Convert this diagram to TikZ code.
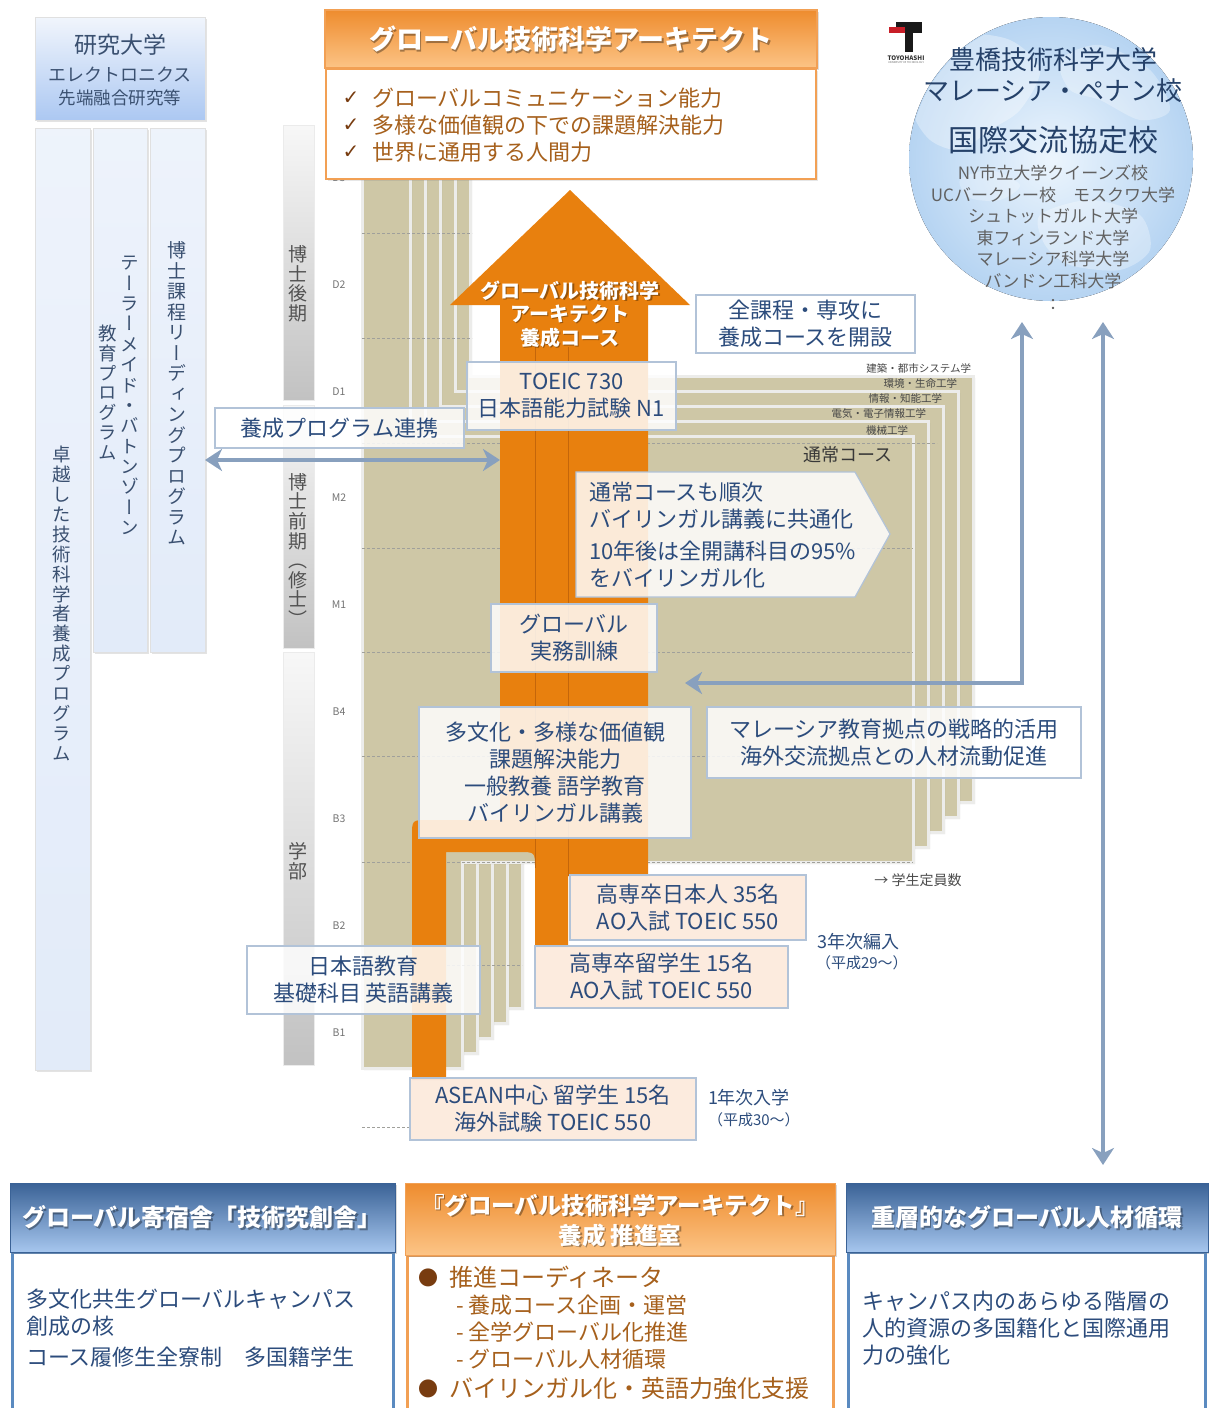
\documentclass[tikz,border=0pt]{standalone}
\usepackage{fontspec}
\setmainfont{Noto Sans CJK JP}
\newfontfamily\cjkv{Noto Sans CJK JP}[RawFeature=+vert]
\newfontfamily\symfont{DejaVu Sans}
\usetikzlibrary{arrows.meta,shadows}

\newcommand\fs[2]{\fontsize{#1}{#2}\selectfont}
\newcommand\vstrut[1]{\vrule height #1em depth 0pt width 0pt\relax}
% stack the characters of a string one below the other (vertical writing)
\ExplSyntaxOn
\NewDocumentCommand \vtext { O{1.08} m }
  {
    \vbox
      {
        \offinterlineskip
        \tl_map_inline:nn {#2}
          { \hbox_to_wd:nn { 1.1em } { \hss \vstrut{#1} \smash{##1} \hss } }
      }
  }
\ExplSyntaxOff

\definecolor{navy}{RGB}{44,76,124}
\definecolor{navygray}{RGB}{58,80,112}
\definecolor{brownt}{RGB}{166,96,28}
\definecolor{browndk}{RGB}{120,60,16}
\definecolor{orng}{RGB}{232,128,14}
\definecolor{orngdk}{RGB}{196,102,10}
\definecolor{tan}{RGB}{206,199,166}
\definecolor{cardedge}{RGB}{236,236,234}
\definecolor{boxline}{RGB}{178,195,216}
\definecolor{peach}{RGB}{252,233,220}
\definecolor{arrowblue}{RGB}{136,160,190}
\definecolor{gridgray}{RGB}{160,160,155}
\definecolor{ltblue}{RGB}{226,235,249}
\definecolor{midblue}{RGB}{172,200,242}
\definecolor{panelblue}{RGB}{90,138,192}
\definecolor{paneldark}{RGB}{58,98,150}
\definecolor{panellight}{RGB}{166,198,238}
\definecolor{orngtop}{RGB}{238,140,46}
\definecolor{orngbot}{RGB}{252,196,134}
\definecolor{orngline}{RGB}{242,160,84}
\definecolor{globeout}{RGB}{182,212,242}
\definecolor{globein}{RGB}{236,245,253}
\definecolor{logored}{RGB}{200,30,40}

\begin{document}
\begin{tikzpicture}[x=1pt,y=-1pt,
  every node/.style={inner sep=0pt, outer sep=0pt},
  lbox/.style={draw=black!12, line width=0.8pt, drop shadow={opacity=0.22,shadow xshift=2pt,shadow yshift=-2pt}},
  colbox/.style={lbox, top color=ltblue!60!white, bottom color=ltblue},
  vlab/.style={text=navygray, font=\cjkv\fs{18.5}{19}},
  yearbar/.style={draw=black!8, line width=0.6pt, top color=black!3, bottom color=black!24, minimum width=31pt},
  yearlab/.style={text=black!55, font=\fs{10.5}{12}},
  cardst/.style={fill=tan, draw=cardedge, line width=3pt, line join=miter, drop shadow={opacity=0.3,shadow xshift=2pt,shadow yshift=-2pt}},
  grid/.style={draw=gridgray, line width=0.7pt, dash pattern=on 3pt off 2pt},
  wbox/.style={draw=boxline, line width=1.2pt, fill=white, fill opacity=0.84, text opacity=1, text=navy, align=center, font=\fs{22}{27}},
  pbox/.style={wbox, fill=peach, fill opacity=0.93},
  note/.style={text=navy, align=left, anchor=west},
  dept/.style={text=black!72, font=\fs{10.5}{12}, anchor=east},
  barrow/.style={draw=arrowblue, line width=4.5pt, {Stealth[width=22pt,length=17pt,inset=5pt]}-{Stealth[width=22pt,length=17pt,inset=5pt]}},
  hdrtext/.style={text=white, font=\bfseries\fs{27}{30}, align=center},
  hdrshadow/.style={text=black, text opacity=0.35, font=\bfseries\fs{27}{30}, align=center},
]
\useasboundingbox (0,0) rectangle (1208,1408);

% ---------- left: research university and programme columns ----------
\node[lbox, top color=ltblue!50!white, bottom color=midblue, minimum width=170pt, minimum height=103pt] (kenkyu) at (120,68.5) {};
\node[text=navygray, font=\fs{23}{26}] (kenkyu-a) at (120,45) {研究大学};
\node[text=navygray, font=\fs{18}{20}] (kenkyu-b) at (120,75) {エレクトロニクス};
\node[text=navygray, font=\fs{17.5}{20}] (kenkyu-c) at (120,98) {先端融合研究等};

\node[colbox, minimum width=55pt, minimum height=942pt] (col-a) at (62.5,599) {};
\node[colbox, minimum width=54pt, minimum height=524pt] (col-b) at (120,390) {};
\node[colbox, minimum width=55pt, minimum height=524pt] (col-c) at (177.5,390) {};
\node[vlab] (col-a-t) at (62,601) {\vtext{卓越した技術科学者養成プログラム}};
\node[vlab] (col-b-r) at (130,392) {\vtext[1.1]{テーラーメイド・バトンゾーン}};
\node[vlab] (col-b-l) at (108,390) {\vtext[1.08]{教育プログラム}};
\node[vlab, font=\cjkv\fs{19}{19}] (col-c-t) at (177,391) {\vtext[1.08]{博士課程リーディングプログラム}};

% ---------- level bar and year marks ----------
\node[yearbar, minimum height=275pt] (bar-d) at (298.5,262.5) {};
\node[yearbar, minimum height=243pt] (bar-m) at (298.5,526.5) {};
\node[yearbar, minimum height=413pt] (bar-b) at (298.5,858.5) {};
\node[text=black!68, font=\cjkv\fs{19}{19}] (bar-d-t) at (298,281) {\vtext[1.05]{博士後期}};
\node[text=black!68, font=\cjkv\fs{19}{19}] (bar-m-t) at (298,548) {\vtext[1.03]{博士前期（修士）}};
\node[text=black!68, font=\cjkv\fs{19}{19}] (bar-b-t) at (298,858) {\vtext[1.1]{学部}};
\foreach \lab/\yy in {D3/178,D2/285,D1/392,M2/498,M1/605,B4/712,B3/819,B2/926,B1/1033}
  \node[yearlab] (yr-\lab) at (339,\yy) {\lab};

% ---------- stacked course cards (front card = machine engineering) ----------
\foreach \i in {4,3,2,1,0}
  \path[cardst, shift={(15*\i,-15*\i)}] (362,178) -- (410,178) -- (410,436) -- (913,436)
    -- (913,862) -- (462,862) -- (462,1068) -- (362,1068) -- cycle;

% year boundaries
\draw[grid] (362,233) -- (472,233);
\draw[grid] (362,338) -- (472,338);
\draw[grid] (362,443) -- (937,443);
\draw[grid] (362,548) -- (913,548);
\draw[grid] (362,652) -- (913,652);
\draw[grid] (362,756) -- (913,756);
\draw[grid] (362,862) -- (913,862);
\draw[grid] (362,965) -- (522,965);
\draw[grid] (362,1127) -- (410,1127);

% ---------- orange course arrow with its entry streams ----------
\fill[orng] (570,190) -- (690,305) -- (648,305) -- (648,876) -- (568,876) -- (568,947)
  -- (535,947) -- (535,868) .. controls (535,852) .. (519,852) -- (446,852) -- (446,1080)
  -- (412,1080) -- (412,836) .. controls (412,820) .. (428,820) -- (500,820) -- (500,305)
  -- (450,305) -- cycle;
\draw[orngdk, line width=0.9pt] (535,347) -- (535,868) (568,347) -- (568,876);
\node[hdrshadow, font=\bfseries\fs{20}{23.5}] (course-sh) at (571.2,315.2) {グローバル技術科学\\アーキテクト\\養成コース};
\node[hdrtext, font=\bfseries\fs{20}{23.5}] (course-title) at (570,314) {グローバル技術科学\\アーキテクト\\養成コース};

% department labels on the card tabs
\node[dept] (dep-5) at (971,368) {建築・都市システム学};
\node[dept] (dep-4) at (957,383) {環境・生命工学};
\node[dept] (dep-3) at (942,398) {情報・知能工学};
\node[dept] (dep-2) at (926,414) {電気・電子情報工学};
\node[dept] (dep-1) at (908,430) {機械工学};
\node[text=black!78, font=\fs{18}{20}] (normal) at (848,455) {通常コース};

% ---------- text boxes ----------
\node[wbox, minimum width=249pt, minimum height=40pt] (renkei) at (339.5,428) {養成プログラム連携};
\node[wbox, minimum width=209pt, minimum height=68pt] (toeic) at (571.5,396) {TOEIC 730\\日本語能力試験 N1};
\node[wbox, minimum width=219pt, minimum height=58pt] (kaisetsu) at (805.5,324) {全課程・専攻に\\養成コースを開設};
\path[draw=boxline, line width=1.2pt, fill=white, fill opacity=0.84] (576,472) -- (855,472) -- (890,534) -- (855,597) -- (576,597) -- cycle;
\node[note, font=\fs{22}{27}] (bilingual) at (589,535) {通常コースも順次\\バイリンガル講義に共通化\\[5pt]10年後は全開講科目の95\%\\をバイリンガル化};
\node[wbox, minimum width=166pt, minimum height=68pt] (jitsumu) at (574,638) {グローバル\\実務訓練};
\node[wbox, minimum width=272pt, minimum height=131pt] (tabunka) at (555,772.5) {多文化・多様な価値観\\課題解決能力\\一般教養 語学教育\\バイリンガル講義};
\node[wbox, minimum width=374pt, minimum height=71pt] (malaysia) at (894,742.5) {マレーシア教育拠点の戦略的活用\\海外交流拠点との人材流動促進};
\node[text=black!70, font=\fs{14}{16}] (teiin) at (918,880) {→ 学生定員数};
\node[pbox, minimum width=236pt, minimum height=65pt] (kosen-jp) at (688,907.5) {高専卒日本人 35名\\AO入試 TOEIC 550};
\node[pbox, minimum width=253pt, minimum height=62pt] (kosen-int) at (661.5,977) {高専卒留学生 15名\\AO入試 TOEIC 550};
\node[wbox, minimum width=233pt, minimum height=68pt] (nihongo) at (363.5,980) {日本語教育\\基礎科目 英語講義};
\node[pbox, minimum width=286pt, minimum height=62pt] (asean) at (553,1109) {ASEAN中心 留学生 15名\\海外試験 TOEIC 550};
\node[note, font=\fs{18}{20}] (hennyu) at (817,942) {3年次編入};
\node[note, font=\fs{15}{17}] (hennyu-y) at (816,963) {（平成29〜）};
\node[note, font=\fs{18}{20}] (nyugaku) at (708,1098) {1年次入学};
\node[note, font=\fs{15}{17}] (nyugaku-y) at (708,1120) {（平成30〜）};

% ---------- exchange arrows ----------
\coordinate (renkei-l) at (205,460);
\coordinate (renkei-r) at (500,460);
\draw[barrow] (renkei-l) -- (renkei-r);
\coordinate (loop-l) at (685,683);
\coordinate (loop-u) at (1022,322);
\draw[barrow] (loop-l) -| (loop-u);
\coordinate (glob-u) at (1103,322);
\coordinate (glob-d) at (1103,1165);
\draw[barrow] (glob-u) -- (glob-d);

% ---------- top: target profile ----------
\node[draw=orngline, line width=1.2pt, top color=orngtop, bottom color=orngbot, minimum width=492pt, minimum height=58pt,
  drop shadow={opacity=.25,shadow xshift=1.5pt,shadow yshift=-1.5pt}] (arch-hdr) at (571,39) {};
\node[hdrshadow] (arch-sh) at (572.5,40.5) {グローバル技術科学アーキテクト};
\node[hdrtext] (arch-title) at (571,39) {グローバル技術科学アーキテクト};
\node[draw=orngline, line width=2.5pt, fill=white, minimum width=490pt, minimum height=110pt,
  drop shadow={opacity=.2,shadow xshift=1.5pt,shadow yshift=-1.5pt}] (arch-list) at (571,124) {};
\foreach \yy/\txt [count=\k] in {98/グローバルコミュニケーション能力,125/多様な価値観の下での課題解決能力,152/世界に通用する人間力} {
  \node[text=browndk, font=\symfont\fs{20}{22}] (chk-\k) at (351,\yy) {✓};
  \node[text=brownt, font=\fs{22}{26}, anchor=west] (skill-\k) at (372,\yy) {\txt};
}

% ---------- globe with partner universities ----------
\fill[inner color=globein, outer color=globeout] (1051,159) circle[radius=142];
\begin{scope}
  \clip (1051,159) circle[radius=141];
  \fill[white, opacity=0.35] plot[smooth cycle] coordinates {(915,60) (960,35) (1010,40) (1040,70) (1020,110) (990,130) (960,150) (930,140) (912,110)};
  \fill[white, opacity=0.3] plot[smooth cycle] coordinates {(1060,60) (1100,45) (1150,70) (1170,110) (1140,120) (1100,100) (1070,90)};
  \fill[white, opacity=0.3] plot[smooth cycle] coordinates {(1040,215) (1090,200) (1140,215) (1150,250) (1120,270) (1070,265) (1045,245)};
  \fill[white, opacity=0.25] plot[smooth cycle] coordinates {(960,180) (990,170) (1020,185) (1000,200) (970,198)};
\end{scope}
\node[text=navy!85!black, font=\fs{26}{30}] (g-name) at (1053,60) {豊橋技術科学大学};
\node[text=navy!85!black, font=\fs{26}{30}] (g-campus) at (1053,91) {マレーシア・ペナン校};
\node[text=navy!85!black, font=\fs{30}{34}] (g-partner) at (1053,140) {国際交流協定校};
\node[text=black!62, font=\fs{17}{21.6}, align=center] (g-list) at (1053,227) {NY市立大学クイーンズ校\\UCバークレー校　モスクワ大学\\シュトットガルト大学\\東フィンランド大学\\マレーシア科学大学\\バンドン工科大学};
\node[text=black!62, font=\fs{16}{18}] (g-more) at (1053,305) {：};

% university mark
\fill[black!90] (896,22) rectangle (922,27);
\fill[black!90] (905,27) rectangle (922,33);
\fill[black!90] (905,33) rectangle (913,52);
\fill[logored] (889,27) rectangle (905,33);
\node[font=\bfseries\fs{6.2}{7}, text=black!80] (logo-name) at (906,58) {TOYOHASHI};
\node[font=\fs{2.6}{3}, text=black!60] (logo-sub) at (906,63) {UNIVERSITY OF TECHNOLOGY};

% ---------- bottom panels ----------
\path[draw=panelblue, line width=3pt, fill=white] (12,1420) -- (12,1252) -- (393,1252) -- (393,1420);
\node[draw=paneldark, line width=1pt, top color=paneldark, bottom color=panellight, minimum width=385pt, minimum height=69pt,
  drop shadow={opacity=.3,shadow xshift=1.5pt,shadow yshift=-2pt}] (dorm-hdr) at (202.5,1217.5) {};
\node[hdrshadow, font=\bfseries\fs{24}{28}] (dorm-sh) at (203.5,1219) {グローバル寄宿舎「技術究創舎」};
\node[hdrtext, font=\bfseries\fs{24}{28}] (dorm-title) at (202,1217.5) {グローバル寄宿舎「技術究創舎」};
\node[note, font=\fs{22}{27}] (dorm-body) at (26,1328) {多文化共生グローバルキャンパス\\創成の核\\[4pt]コース履修生全寮制　多国籍学生};

\path[draw=orngline, line width=3pt, fill=white] (407,1420) -- (407,1255) -- (833,1255) -- (833,1420);
\node[draw=orngline, line width=1pt, top color=orngtop, bottom color=orngbot, minimum width=430pt, minimum height=72pt,
  drop shadow={opacity=.3,shadow xshift=1.5pt,shadow yshift=-2pt}] (office-hdr) at (620,1219) {};
\node[hdrshadow, font=\bfseries\fs{23.5}{30}] (office-sh) at (621.5,1221.5) {『グローバル技術科学アーキテクト』\\養成 推進室};
\node[hdrtext, font=\bfseries\fs{23.5}{30}] (office-title) at (620,1220) {『グローバル技術科学アーキテクト』\\養成 推進室};
\node[text=browndk, font=\fs{20}{24}] (dot-1) at (428,1278) {●};
\node[text=brownt, font=\fs{24}{27}, anchor=west] (office-1) at (449,1277) {推進コーディネータ};
\node[text=brownt, font=\fs{22}{26}, anchor=west] (office-2) at (456,1305) {- 養成コース企画・運営};
\node[text=brownt, font=\fs{22}{26}, anchor=west] (office-3) at (456,1332) {- 全学グローバル化推進};
\node[text=brownt, font=\fs{22}{26}, anchor=west] (office-4) at (456,1359) {- グローバル人材循環};
\node[text=browndk, font=\fs{20}{24}] (dot-2) at (428,1389) {●};
\node[text=brownt, font=\fs{24}{27}, anchor=west] (office-5) at (449,1388) {バイリンガル化・英語力強化支援};

\path[draw=panelblue, line width=3pt, fill=white] (848,1420) -- (848,1252) -- (1205,1252) -- (1205,1420);
\node[draw=paneldark, line width=1pt, top color=paneldark, bottom color=panellight, minimum width=362pt, minimum height=69pt,
  drop shadow={opacity=.3,shadow xshift=1.5pt,shadow yshift=-2pt}] (cycle-hdr) at (1027,1217.5) {};
\node[hdrshadow, font=\bfseries\fs{24}{28}] (cycle-sh) at (1028.5,1219) {重層的なグローバル人材循環};
\node[hdrtext, font=\bfseries\fs{24}{28}] (cycle-title) at (1027,1217.5) {重層的なグローバル人材循環};
\node[note, font=\fs{22}{27}] (cycle-body) at (862,1328) {キャンパス内のあらゆる階層の\\人的資源の多国籍化と国際通用\\力の強化};
\end{tikzpicture}
\end{document}
